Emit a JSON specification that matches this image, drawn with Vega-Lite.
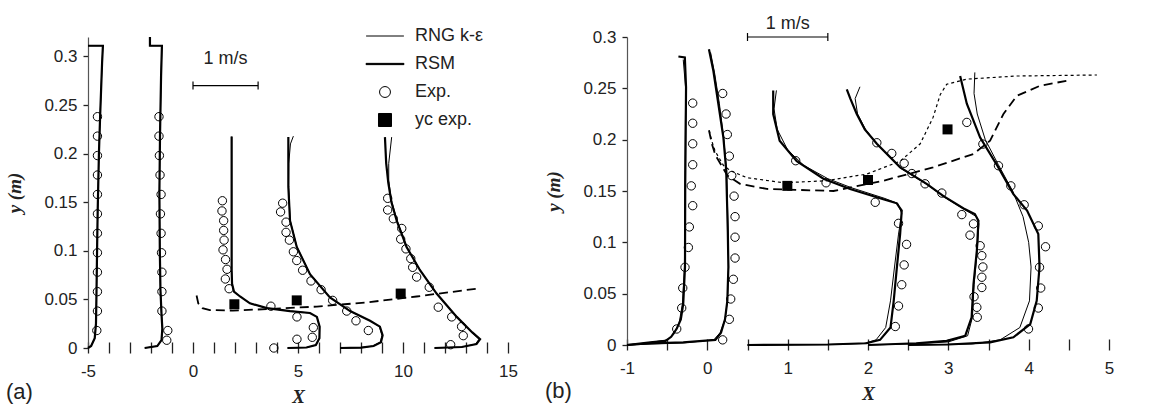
{
  "$schema": "https://vega.github.io/schema/vega-lite/v6.json",
  "background": "white",
  "padding": {"left": 5, "top": 14, "right": 5, "bottom": 5},
  "bounds": "flush",
  "spacing": 119,
  "config": {
    "view": {"stroke": null},
    "axis": {"labelFont": "Liberation Sans", "labelFontSize": 17, "labelColor": "#222", "titleFont": "Liberation Serif", "titleFontSize": 19, "titleFontStyle": "italic", "titleFontWeight": "bold", "titleColor": "#222", "grid": false, "domainColor": "#555", "tickColor": "#222", "domainWidth": 1.2, "tickWidth": 1.3, "labelOverlap": false, "labelFlush": false, "labelBound": false},
    "title": {"font": "Liberation Sans", "fontSize": 22, "fontWeight": "normal", "color": "#222"}
  },
  "datasets": {
    "a_lines": [
      {"p":"a1","m":"both","x":-5,"y":0.311},{"p":"a1","m":"both","x":-4.29,"y":0.311},{"p":"a1","m":"both","x":-4.33,"y":0.293},{"p":"a1","m":"both","x":-4.42,"y":0.24},{"p":"a1","m":"both","x":-4.48,"y":0.2},{"p":"a1","m":"both","x":-4.54,"y":0.14},{"p":"a1","m":"both","x":-4.57,"y":0.097},{"p":"a1","m":"both","x":-4.6,"y":0.05},{"p":"a1","m":"both","x":-4.62,"y":0.025},{"p":"a1","m":"both","x":-4.68,"y":0.01},{"p":"a1","m":"both","x":-4.85,"y":0.002},{"p":"a1","m":"both","x":-5,"y":0},
      {"p":"a2","m":"both","x":-2.05,"y":0.32},{"p":"a2","m":"both","x":-2.05,"y":0.311},{"p":"a2","m":"both","x":-1.48,"y":0.311},{"p":"a2","m":"both","x":-1.52,"y":0.28},{"p":"a2","m":"both","x":-1.57,"y":0.22},{"p":"a2","m":"both","x":-1.6,"y":0.16},{"p":"a2","m":"both","x":-1.58,"y":0.1},{"p":"a2","m":"both","x":-1.55,"y":0.06},{"p":"a2","m":"both","x":-1.5,"y":0.035},{"p":"a2","m":"both","x":-1.46,"y":0.02},{"p":"a2","m":"both","x":-1.5,"y":0.008},{"p":"a2","m":"both","x":-1.7,"y":0.002},{"p":"a2","m":"both","x":-2.3,"y":0},
      {"p":"a3","m":"both","x":1.84,"y":0.2175},{"p":"a3","m":"both","x":1.84,"y":0.15},{"p":"a3","m":"both","x":1.84,"y":0.08},{"p":"a3","m":"both","x":1.86,"y":0.066},{"p":"a3","m":"both","x":1.95,"y":0.058},{"p":"a3","m":"both","x":2.24,"y":0.053},{"p":"a3","m":"both","x":2.71,"y":0.046},{"p":"a3","m":"both","x":3.52,"y":0.041},{"p":"a3","m":"both","x":4.62,"y":0.038},{"p":"a3","m":"both","x":5.57,"y":0.036},{"p":"a3","m":"both","x":5.9,"y":0.032},{"p":"a3","m":"both","x":6.03,"y":0.022},{"p":"a3","m":"both","x":6.02,"y":0.01},{"p":"a3","m":"both","x":5.85,"y":0.003},{"p":"a3","m":"both","x":5.4,"y":0.0005},{"p":"a3","m":"both","x":4.5,"y":0},
      {"p":"a4","m":"RSM","x":4.54,"y":0.217},{"p":"a4","m":"RSM","x":4.54,"y":0.166},{"p":"a4","m":"RSM","x":4.62,"y":0.131},{"p":"a4","m":"RSM","x":4.94,"y":0.104},{"p":"a4","m":"RSM","x":5.57,"y":0.076},{"p":"a4","m":"RSM","x":6.52,"y":0.052},{"p":"a4","m":"RSM","x":7.48,"y":0.038},{"p":"a4","m":"RSM","x":8.43,"y":0.028},{"p":"a4","m":"RSM","x":8.9,"y":0.022},{"p":"a4","m":"RSM","x":9.03,"y":0.013},{"p":"a4","m":"RSM","x":8.95,"y":0.006},{"p":"a4","m":"RSM","x":8.6,"y":0.002},{"p":"a4","m":"RSM","x":8.0,"y":0.0003},{"p":"a4","m":"RSM","x":7,"y":0},
      {"p":"a4","m":"RNG","x":4.78,"y":0.218},{"p":"a4","m":"RNG","x":4.64,"y":0.21},{"p":"a4","m":"RNG","x":4.56,"y":0.19},{"p":"a4","m":"RNG","x":4.55,"y":0.166},{"p":"a4","m":"RNG","x":4.63,"y":0.131},{"p":"a4","m":"RNG","x":4.95,"y":0.104},{"p":"a4","m":"RNG","x":5.58,"y":0.076},{"p":"a4","m":"RNG","x":6.52,"y":0.052},{"p":"a4","m":"RNG","x":7.48,"y":0.038},{"p":"a4","m":"RNG","x":8.43,"y":0.028},{"p":"a4","m":"RNG","x":8.88,"y":0.022},{"p":"a4","m":"RNG","x":9.0,"y":0.013},{"p":"a4","m":"RNG","x":8.92,"y":0.006},{"p":"a4","m":"RNG","x":8.55,"y":0.002},{"p":"a4","m":"RNG","x":8.0,"y":0.0003},{"p":"a4","m":"RNG","x":7,"y":0},
      {"p":"a5","m":"RSM","x":9.14,"y":0.217},{"p":"a5","m":"RSM","x":9.2,"y":0.19},{"p":"a5","m":"RSM","x":9.3,"y":0.17},{"p":"a5","m":"RSM","x":9.45,"y":0.15},{"p":"a5","m":"RSM","x":9.7,"y":0.131},{"p":"a5","m":"RSM","x":10.17,"y":0.104},{"p":"a5","m":"RSM","x":10.81,"y":0.08},{"p":"a5","m":"RSM","x":11.6,"y":0.056},{"p":"a5","m":"RSM","x":12.56,"y":0.032},{"p":"a5","m":"RSM","x":13.3,"y":0.016},{"p":"a5","m":"RSM","x":13.67,"y":0.009},{"p":"a5","m":"RSM","x":13.5,"y":0.004},{"p":"a5","m":"RSM","x":12.8,"y":0.001},{"p":"a5","m":"RSM","x":11.5,"y":0},
      {"p":"a5","m":"RNG","x":9.46,"y":0.217},{"p":"a5","m":"RNG","x":9.32,"y":0.19},{"p":"a5","m":"RNG","x":9.32,"y":0.172},{"p":"a5","m":"RNG","x":9.45,"y":0.152},{"p":"a5","m":"RNG","x":9.72,"y":0.131},{"p":"a5","m":"RNG","x":10.18,"y":0.104},{"p":"a5","m":"RNG","x":10.82,"y":0.08},{"p":"a5","m":"RNG","x":11.6,"y":0.056},{"p":"a5","m":"RNG","x":12.55,"y":0.032},{"p":"a5","m":"RNG","x":13.28,"y":0.016},{"p":"a5","m":"RNG","x":13.62,"y":0.009},{"p":"a5","m":"RNG","x":13.45,"y":0.004},{"p":"a5","m":"RNG","x":12.8,"y":0.001},{"p":"a5","m":"RNG","x":11.5,"y":0}
    ],
    "a_exp": [
      {"x":-4.55,"y":0.238},{"x":-4.55,"y":0.218},{"x":-4.55,"y":0.198},{"x":-4.55,"y":0.178},{"x":-4.55,"y":0.158},{"x":-4.55,"y":0.138},{"x":-4.55,"y":0.118},{"x":-4.55,"y":0.098},{"x":-4.55,"y":0.078},{"x":-4.55,"y":0.058},{"x":-4.55,"y":0.038},{"x":-4.58,"y":0.018},
      {"x":-1.62,"y":0.238},{"x":-1.62,"y":0.218},{"x":-1.6,"y":0.198},{"x":-1.57,"y":0.178},{"x":-1.52,"y":0.158},{"x":-1.55,"y":0.138},{"x":-1.52,"y":0.118},{"x":-1.5,"y":0.098},{"x":-1.48,"y":0.078},{"x":-1.48,"y":0.058},{"x":-1.48,"y":0.038},{"x":-1.2,"y":0.018},{"x":-1.25,"y":0.008},
      {"x":1.4,"y":0.1515},{"x":1.38,"y":0.141},{"x":1.46,"y":0.131},{"x":1.46,"y":0.121},{"x":1.48,"y":0.111},{"x":1.43,"y":0.101},{"x":1.55,"y":0.091},{"x":1.62,"y":0.081},{"x":1.54,"y":0.071},{"x":1.72,"y":0.061},{"x":3.71,"y":0.043},{"x":4.95,"y":0.032},{"x":5.73,"y":0.021},{"x":5.68,"y":0.011},{"x":4.95,"y":0.009},{"x":3.85,"y":0.0},
      {"x":4.27,"y":0.149},{"x":4.17,"y":0.14},{"x":4.43,"y":0.1295},{"x":4.43,"y":0.119},{"x":4.59,"y":0.111},{"x":4.78,"y":0.099},{"x":4.94,"y":0.09},{"x":5.22,"y":0.08},{"x":5.62,"y":0.069},{"x":6.1,"y":0.06},{"x":6.65,"y":0.049},{"x":7.32,"y":0.038},{"x":7.76,"y":0.028},{"x":8.35,"y":0.018},
      {"x":9.27,"y":0.154},{"x":9.27,"y":0.142},{"x":9.54,"y":0.133},{"x":9.94,"y":0.123},{"x":9.89,"y":0.112},{"x":10.14,"y":0.102},{"x":10.37,"y":0.092},{"x":10.46,"y":0.083},{"x":10.65,"y":0.073},{"x":11.25,"y":0.0625},{"x":11.68,"y":0.042},{"x":12.32,"y":0.032},{"x":12.79,"y":0.022},{"x":12.87,"y":0.0127},{"x":12.27,"y":0.0034}
    ],
    "a_yc": [{"x":1.97,"y":0.045},{"x":4.94,"y":0.049},{"x":9.89,"y":0.056}],
    "a_dash": [{"x":0.17,"y":0.054},{"x":0.25,"y":0.046},{"x":0.45,"y":0.041},{"x":0.8,"y":0.039},{"x":1.9,"y":0.0385},{"x":3.5,"y":0.04},{"x":5.9,"y":0.0426},{"x":8.3,"y":0.047},{"x":10.65,"y":0.053},{"x":13.67,"y":0.0615}],
    "a_bar": [{"x":0,"x2":3.1,"y":0.27}],
    "a_barends": [{"x":0,"y":0.27},{"x":3.1,"y":0.27}],
    "a_label": [{"x":1.55,"y":0.297,"t":"1 m/s"}],
    "legend": [{"s":"RNG k-ε"},{"s":"RSM"},{"s":"Exp."},{"s":"yc exp."}],
    "b_lines": [
      {"p":"b1","m":"RSM","x":-0.36,"y":0.281},{"p":"b1","m":"RSM","x":-0.28,"y":0.28},{"p":"b1","m":"RSM","x":-0.265,"y":0.251},{"p":"b1","m":"RSM","x":-0.27,"y":0.2},{"p":"b1","m":"RSM","x":-0.275,"y":0.157},{"p":"b1","m":"RSM","x":-0.278,"y":0.076},{"p":"b1","m":"RSM","x":-0.3,"y":0.04},{"p":"b1","m":"RSM","x":-0.33,"y":0.025},{"p":"b1","m":"RSM","x":-0.38,"y":0.016},{"p":"b1","m":"RSM","x":-0.45,"y":0.008},{"p":"b1","m":"RSM","x":-0.52,"y":0.004},{"p":"b1","m":"RSM","x":-0.71,"y":0.0026},{"p":"b1","m":"RSM","x":-1,"y":0},
      {"p":"b1","m":"RNG","x":-0.3,"y":0.278},{"p":"b1","m":"RNG","x":-0.27,"y":0.25},{"p":"b1","m":"RNG","x":-0.278,"y":0.17},{"p":"b1","m":"RNG","x":-0.285,"y":0.076},{"p":"b1","m":"RNG","x":-0.31,"y":0.04},{"p":"b1","m":"RNG","x":-0.35,"y":0.022},{"p":"b1","m":"RNG","x":-0.42,"y":0.01},{"p":"b1","m":"RNG","x":-0.5,"y":0.005},{"p":"b1","m":"RNG","x":-0.75,"y":0.002},{"p":"b1","m":"RNG","x":-1,"y":0},
      {"p":"b2","m":"RSM","x":0.02,"y":0.288},{"p":"b2","m":"RSM","x":0.075,"y":0.267},{"p":"b2","m":"RSM","x":0.137,"y":0.235},{"p":"b2","m":"RSM","x":0.2,"y":0.202},{"p":"b2","m":"RSM","x":0.235,"y":0.17},{"p":"b2","m":"RSM","x":0.245,"y":0.14},{"p":"b2","m":"RSM","x":0.255,"y":0.11},{"p":"b2","m":"RSM","x":0.262,"y":0.076},{"p":"b2","m":"RSM","x":0.249,"y":0.043},{"p":"b2","m":"RSM","x":0.22,"y":0.025},{"p":"b2","m":"RSM","x":0.17,"y":0.012},{"p":"b2","m":"RSM","x":0.1,"y":0.005},{"p":"b2","m":"RSM","x":-0.3,"y":0.0026},{"p":"b2","m":"RSM","x":-0.7,"y":0.0017},{"p":"b2","m":"RSM","x":-1,"y":0},
      {"p":"b2","m":"RNG","x":0.04,"y":0.285},{"p":"b2","m":"RNG","x":0.09,"y":0.265},{"p":"b2","m":"RNG","x":0.15,"y":0.235},{"p":"b2","m":"RNG","x":0.205,"y":0.2},{"p":"b2","m":"RNG","x":0.24,"y":0.17},{"p":"b2","m":"RNG","x":0.25,"y":0.14},{"p":"b2","m":"RNG","x":0.258,"y":0.11},{"p":"b2","m":"RNG","x":0.265,"y":0.076},{"p":"b2","m":"RNG","x":0.25,"y":0.043},{"p":"b2","m":"RNG","x":0.22,"y":0.025},{"p":"b2","m":"RNG","x":0.16,"y":0.012},{"p":"b2","m":"RNG","x":0.08,"y":0.005},{"p":"b2","m":"RNG","x":-0.3,"y":0.002},{"p":"b2","m":"RNG","x":-1,"y":0},
      {"p":"b3","m":"RSM","x":0.82,"y":0.248},{"p":"b3","m":"RSM","x":0.82,"y":0.225},{"p":"b3","m":"RSM","x":0.9,"y":0.199},{"p":"b3","m":"RSM","x":1.113,"y":0.179},{"p":"b3","m":"RSM","x":1.445,"y":0.162},{"p":"b3","m":"RSM","x":1.777,"y":0.152},{"p":"b3","m":"RSM","x":2.19,"y":0.142},{"p":"b3","m":"RSM","x":2.358,"y":0.138},{"p":"b3","m":"RSM","x":2.42,"y":0.131},{"p":"b3","m":"RSM","x":2.4,"y":0.108},{"p":"b3","m":"RSM","x":2.36,"y":0.076},{"p":"b3","m":"RSM","x":2.32,"y":0.043},{"p":"b3","m":"RSM","x":2.28,"y":0.017},{"p":"b3","m":"RSM","x":2.15,"y":0.005},{"p":"b3","m":"RSM","x":1.98,"y":0.0017},{"p":"b3","m":"RSM","x":1.5,"y":0.0005},{"p":"b3","m":"RSM","x":0.5,"y":0},
      {"p":"b3","m":"RNG","x":0.86,"y":0.248},{"p":"b3","m":"RNG","x":0.83,"y":0.23},{"p":"b3","m":"RNG","x":0.87,"y":0.21},{"p":"b3","m":"RNG","x":1.0,"y":0.19},{"p":"b3","m":"RNG","x":1.2,"y":0.175},{"p":"b3","m":"RNG","x":1.5,"y":0.162},{"p":"b3","m":"RNG","x":1.8,"y":0.153},{"p":"b3","m":"RNG","x":2.2,"y":0.143},{"p":"b3","m":"RNG","x":2.37,"y":0.138},{"p":"b3","m":"RNG","x":2.42,"y":0.128},{"p":"b3","m":"RNG","x":2.38,"y":0.108},{"p":"b3","m":"RNG","x":2.33,"y":0.076},{"p":"b3","m":"RNG","x":2.28,"y":0.043},{"p":"b3","m":"RNG","x":2.22,"y":0.017},{"p":"b3","m":"RNG","x":2.1,"y":0.005},{"p":"b3","m":"RNG","x":1.95,"y":0.0015},{"p":"b3","m":"RNG","x":1.5,"y":0.0004},{"p":"b3","m":"RNG","x":0.5,"y":0},
      {"p":"b4","m":"RSM","x":1.736,"y":0.249},{"p":"b4","m":"RSM","x":1.78,"y":0.24},{"p":"b4","m":"RSM","x":1.86,"y":0.225},{"p":"b4","m":"RSM","x":1.96,"y":0.21},{"p":"b4","m":"RSM","x":2.11,"y":0.196},{"p":"b4","m":"RSM","x":2.4,"y":0.173},{"p":"b4","m":"RSM","x":2.73,"y":0.157},{"p":"b4","m":"RSM","x":2.94,"y":0.145},{"p":"b4","m":"RSM","x":3.19,"y":0.133},{"p":"b4","m":"RSM","x":3.33,"y":0.1275},{"p":"b4","m":"RSM","x":3.375,"y":0.121},{"p":"b4","m":"RSM","x":3.355,"y":0.092},{"p":"b4","m":"RSM","x":3.313,"y":0.059},{"p":"b4","m":"RSM","x":3.29,"y":0.027},{"p":"b4","m":"RSM","x":3.21,"y":0.009},{"p":"b4","m":"RSM","x":2.98,"y":0.004},{"p":"b4","m":"RSM","x":2.6,"y":0.0017},{"p":"b4","m":"RSM","x":2,"y":0},
      {"p":"b4","m":"RNG","x":1.9,"y":0.2515},{"p":"b4","m":"RNG","x":1.84,"y":0.24},{"p":"b4","m":"RNG","x":1.87,"y":0.225},{"p":"b4","m":"RNG","x":1.97,"y":0.21},{"p":"b4","m":"RNG","x":2.12,"y":0.195},{"p":"b4","m":"RNG","x":2.41,"y":0.172},{"p":"b4","m":"RNG","x":2.74,"y":0.156},{"p":"b4","m":"RNG","x":2.95,"y":0.144},{"p":"b4","m":"RNG","x":3.2,"y":0.132},{"p":"b4","m":"RNG","x":3.35,"y":0.125},{"p":"b4","m":"RNG","x":3.38,"y":0.118},{"p":"b4","m":"RNG","x":3.36,"y":0.092},{"p":"b4","m":"RNG","x":3.32,"y":0.059},{"p":"b4","m":"RNG","x":3.3,"y":0.027},{"p":"b4","m":"RNG","x":3.24,"y":0.009},{"p":"b4","m":"RNG","x":3.0,"y":0.003},{"p":"b4","m":"RNG","x":2.6,"y":0.0012},{"p":"b4","m":"RNG","x":2,"y":0},
      {"p":"b5","m":"RSM","x":3.147,"y":0.262},{"p":"b5","m":"RSM","x":3.23,"y":0.235},{"p":"b5","m":"RSM","x":3.396,"y":0.202},{"p":"b5","m":"RSM","x":3.6,"y":0.176},{"p":"b5","m":"RSM","x":3.81,"y":0.147},{"p":"b5","m":"RSM","x":3.98,"y":0.131},{"p":"b5","m":"RSM","x":4.12,"y":0.108},{"p":"b5","m":"RSM","x":4.135,"y":0.076},{"p":"b5","m":"RSM","x":4.1,"y":0.043},{"p":"b5","m":"RSM","x":4.02,"y":0.0204},{"p":"b5","m":"RSM","x":3.81,"y":0.0075},{"p":"b5","m":"RSM","x":3.52,"y":0.0026},{"p":"b5","m":"RSM","x":3.0,"y":0.0005},{"p":"b5","m":"RSM","x":2.5,"y":0},
      {"p":"b5","m":"RNG","x":3.33,"y":0.2655},{"p":"b5","m":"RNG","x":3.32,"y":0.245},{"p":"b5","m":"RNG","x":3.36,"y":0.225},{"p":"b5","m":"RNG","x":3.46,"y":0.2},{"p":"b5","m":"RNG","x":3.62,"y":0.176},{"p":"b5","m":"RNG","x":3.8,"y":0.15},{"p":"b5","m":"RNG","x":3.93,"y":0.125},{"p":"b5","m":"RNG","x":4.0,"y":0.1},{"p":"b5","m":"RNG","x":4.03,"y":0.076},{"p":"b5","m":"RNG","x":4.01,"y":0.043},{"p":"b5","m":"RNG","x":3.89,"y":0.017},{"p":"b5","m":"RNG","x":3.645,"y":0.005},{"p":"b5","m":"RNG","x":3.3,"y":0.001},{"p":"b5","m":"RNG","x":2.5,"y":0}
    ],
    "b_exp": [
      {"x":-0.182,"y":0.2356},{"x":-0.182,"y":0.216},{"x":-0.182,"y":0.196},{"x":-0.182,"y":0.1756},{"x":-0.2,"y":0.155},{"x":-0.182,"y":0.1357},{"x":-0.224,"y":0.115},{"x":-0.236,"y":0.095},{"x":-0.278,"y":0.0757},{"x":-0.306,"y":0.0555},{"x":-0.319,"y":0.036},{"x":-0.381,"y":0.0156},
      {"x":0.191,"y":0.245},{"x":0.233,"y":0.225},{"x":0.249,"y":0.205},{"x":0.274,"y":0.184},{"x":0.304,"y":0.165},{"x":0.333,"y":0.145},{"x":0.345,"y":0.125},{"x":0.345,"y":0.105},{"x":0.345,"y":0.0847},{"x":0.324,"y":0.064},{"x":0.291,"y":0.0448},{"x":0.274,"y":0.025},{"x":0.191,"y":0.005},
      {"x":1.1,"y":0.1795},{"x":1.478,"y":0.158},{"x":2.09,"y":0.139},{"x":2.38,"y":0.1185},{"x":2.48,"y":0.098},{"x":2.45,"y":0.078},{"x":2.42,"y":0.0587},{"x":2.38,"y":0.038},{"x":2.34,"y":0.018},
      {"x":2.11,"y":0.197},{"x":2.296,"y":0.1866},{"x":2.45,"y":0.177},{"x":2.546,"y":0.167},{"x":2.71,"y":0.157},{"x":2.919,"y":0.148},{"x":3.168,"y":0.127},{"x":3.313,"y":0.118},{"x":3.27,"y":0.107},{"x":3.396,"y":0.0967},{"x":3.417,"y":0.087},{"x":3.43,"y":0.076},{"x":3.417,"y":0.066},{"x":3.417,"y":0.056},{"x":3.32,"y":0.047},{"x":3.355,"y":0.0367},{"x":3.36,"y":0.027},
      {"x":3.23,"y":0.2168},{"x":3.43,"y":0.1957},{"x":3.624,"y":0.1746},{"x":3.778,"y":0.155},{"x":3.944,"y":0.1366},{"x":4.12,"y":0.116},{"x":4.21,"y":0.0957},{"x":4.135,"y":0.0757},{"x":4.15,"y":0.0555},{"x":4.12,"y":0.036},{"x":3.998,"y":0.0156}
    ],
    "b_yc": [{"x":0.996,"y":0.155},{"x":2.0,"y":0.1607},{"x":2.99,"y":0.21}],
    "b_dash": [
      {"m":"RNG","x":0.025,"y":0.209},{"m":"RNG","x":0.05,"y":0.2},{"m":"RNG","x":0.096,"y":0.189},{"m":"RNG","x":0.2,"y":0.175},{"m":"RNG","x":0.283,"y":0.17},{"m":"RNG","x":0.49,"y":0.163},{"m":"RNG","x":0.947,"y":0.158},{"m":"RNG","x":1.487,"y":0.16},{"m":"RNG","x":1.985,"y":0.1665},{"m":"RNG","x":2.4,"y":0.179},{"m":"RNG","x":2.65,"y":0.196},{"m":"RNG","x":2.81,"y":0.2217},{"m":"RNG","x":2.9,"y":0.244},{"m":"RNG","x":2.98,"y":0.254},{"m":"RNG","x":3.23,"y":0.259},{"m":"RNG","x":3.853,"y":0.262},{"m":"RNG","x":4.85,"y":0.263},
      {"m":"RSM","x":0.02,"y":0.209},{"m":"RSM","x":0.06,"y":0.195},{"m":"RSM","x":0.1,"y":0.185},{"m":"RSM","x":0.25,"y":0.165},{"m":"RSM","x":0.407,"y":0.157},{"m":"RSM","x":0.74,"y":0.152},{"m":"RSM","x":1.154,"y":0.151},{"m":"RSM","x":1.57,"y":0.15},{"m":"RSM","x":2.19,"y":0.16},{"m":"RSM","x":2.81,"y":0.173},{"m":"RSM","x":3.31,"y":0.186},{"m":"RSM","x":3.52,"y":0.199},{"m":"RSM","x":3.686,"y":0.225},{"m":"RSM","x":3.853,"y":0.2427},{"m":"RSM","x":4.14,"y":0.2525},{"m":"RSM","x":4.517,"y":0.258}
    ],
    "b_bar": [{"x":0.5,"x2":1.5,"y":0.3}],
    "b_barends": [{"x":0.5,"y":0.3},{"x":1.5,"y":0.3}],
    "b_label": [{"x":1.0,"y":0.313,"t":"1 m/s"}]
  },
  "hconcat": [
    {
      "width": 420,
      "height": 311,
      "title": {"text": "(a)", "orient": "bottom", "anchor": "start", "frame": "bounds", "offset": -24},
      "layer": [
        {"mark": {"type": "rule", "color": "#555", "strokeWidth": 1.2}, "encoding": {"y": {"datum": 0, "type": "quantitative"}}},
        {
          "data": {"name": "a_lines"},
          "transform": [{"filter": "datum.m !== 'RSM'"}],
          "mark": {"type": "line", "color": "black", "strokeWidth": 1},
          "encoding": {
            "x": {"field": "x", "type": "quantitative", "scale": {"domain": [-5, 15], "nice": false, "zero": false},
                  "axis": {"values": [-5,-4,-3,-2,-1,0,1,2,3,4,5,6,7,8,9,10,11,12,13,14,15], "tickCount": 100, "labelExpr": "datum.value % 5 === 0 ? '' + datum.value : ''", "labelOverlap": false, "labelFlush": false, "offset": -6, "tickSize": 11, "domain": false, "labelPadding": 10, "title": "X", "titlePadding": 8}},
            "y": {"field": "y", "type": "quantitative", "scale": {"domain": [0, 0.32], "nice": false},
                  "axis": {"values": [0,0.05,0.1,0.15,0.2,0.25,0.3], "tickCount": 100, "labelExpr": "'' + datum.value", "labelOverlap": false, "labelFlush": false, "tickSize": 5, "labelPadding": 6, "title": "y (m)", "titlePadding": 19}},
            "detail": {"field": "p", "type": "nominal"},
            "order": {"value": null}
          }
        },
        {
          "data": {"name": "a_lines"},
          "transform": [{"filter": "datum.m !== 'RNG'"}],
          "mark": {"type": "line", "color": "black", "strokeWidth": 2.2},
          "encoding": {"x": {"field": "x", "type": "quantitative"}, "y": {"field": "y", "type": "quantitative"}, "detail": {"field": "p", "type": "nominal"}, "order": {"value": null}}
        },
        {
          "data": {"name": "a_dash"},
          "mark": {"type": "line", "color": "black", "strokeWidth": 1.8, "strokeDash": [9, 5]},
          "encoding": {"x": {"field": "x", "type": "quantitative"}, "y": {"field": "y", "type": "quantitative"}, "order": {"value": null}}
        },
        {
          "data": {"name": "a_exp"},
          "mark": {"type": "point", "shape": "circle", "filled": false, "stroke": "black", "strokeWidth": 1, "size": 70, "opacity": 1},
          "encoding": {"x": {"field": "x", "type": "quantitative"}, "y": {"field": "y", "type": "quantitative"}}
        },
        {
          "data": {"name": "a_yc"},
          "mark": {"type": "square", "color": "black", "size": 100, "opacity": 1},
          "encoding": {"x": {"field": "x", "type": "quantitative"}, "y": {"field": "y", "type": "quantitative"}}
        },
        {
          "data": {"name": "a_bar"},
          "mark": {"type": "rule", "color": "black", "strokeWidth": 1.2},
          "encoding": {"x": {"field": "x", "type": "quantitative"}, "x2": {"field": "x2"}, "y": {"field": "y", "type": "quantitative"}}
        },
        {
          "data": {"name": "a_barends"},
          "mark": {"type": "point", "shape": "M0,-1V1", "stroke": "black", "strokeWidth": 1.2, "size": 64, "opacity": 1, "filled": false},
          "encoding": {"x": {"field": "x", "type": "quantitative"}, "y": {"field": "y", "type": "quantitative"}}
        },
        {
          "data": {"name": "a_label"},
          "mark": {"type": "text", "font": "Liberation Sans", "fontSize": 18, "color": "#222"},
          "encoding": {"x": {"field": "x", "type": "quantitative"}, "y": {"field": "y", "type": "quantitative"}, "text": {"field": "t"}}
        },
        {
          "data": {"name": "legend"},
          "mark": {"type": "point", "filled": true, "stroke": "black", "strokeWidth": 1, "opacity": 1},
          "encoding": {
            "x": {"field": "lx", "type": "quantitative"},
            "y": {"field": "ly", "type": "quantitative"},
            "shape": {"field": "s", "type": "nominal",
              "scale": {"domain": ["RNG k-ε", "RSM", "Exp.", "yc exp."], "range": ["M-2.7,0H2.7", "M-2.7,-0.09H2.7V0.09H-2.7Z", "M-0.78,0A0.78,0.78,0,1,0,0.78,0A0.78,0.78,0,1,0,-0.78,0Z", "M-0.93,-0.93H0.93V0.93H-0.93Z"]},
              "legend": {"orient": "none", "legendX": 288, "legendY": -10, "title": null, "symbolSize": 196, "symbolStrokeWidth": 1, "labelFont": "Liberation Sans", "labelFontSize": 18, "labelColor": "#222", "labelOffset": 21, "rowPadding": 10, "padding": 0}},
            "fill": {"field": "s", "type": "nominal",
              "scale": {"domain": ["RNG k-ε", "RSM", "Exp.", "yc exp."], "range": ["transparent", "black", "white", "black"]},
              "legend": {"orient": "none", "legendX": 288, "legendY": -10, "title": null, "symbolSize": 196, "symbolStrokeWidth": 1, "labelFont": "Liberation Sans", "labelFontSize": 18, "labelColor": "#222", "labelOffset": 21, "rowPadding": 10, "padding": 0}}
          }
        }
      ]
    },
    {
      "width": 482,
      "height": 308,
      "title": {"text": "(b)", "orient": "bottom", "anchor": "start", "frame": "bounds", "offset": -22},
      "layer": [
        {"mark": {"type": "rule", "color": "#555", "strokeWidth": 1.2}, "encoding": {"y": {"datum": 0, "type": "quantitative"}}},
        {
          "data": {"name": "b_lines"},
          "transform": [{"filter": "datum.m !== 'RSM'"}],
          "mark": {"type": "line", "color": "black", "strokeWidth": 1},
          "encoding": {
            "x": {"field": "x", "type": "quantitative", "scale": {"domain": [-1, 5], "nice": false, "zero": false},
                  "axis": {"values": [-1,-0.5,0,0.5,1,1.5,2,2.5,3,3.5,4,4.5,5], "tickCount": 100, "labelExpr": "datum.value % 1 === 0 ? '' + datum.value : ''", "labelOverlap": false, "labelFlush": false, "offset": -6, "tickSize": 11, "domain": false, "labelPadding": 10, "title": "X", "titlePadding": 8}},
            "y": {"field": "y", "type": "quantitative", "scale": {"domain": [0, 0.3], "nice": false},
                  "axis": {"values": [0,0.05,0.1,0.15,0.2,0.25,0.3], "tickCount": 100, "labelExpr": "'' + datum.value", "labelOverlap": false, "labelFlush": false, "tickSize": 5, "labelPadding": 6, "title": "y (m)", "titlePadding": 19}},
            "detail": {"field": "p", "type": "nominal"},
            "order": {"value": null}
          }
        },
        {
          "data": {"name": "b_lines"},
          "transform": [{"filter": "datum.m !== 'RNG'"}],
          "mark": {"type": "line", "color": "black", "strokeWidth": 2.2},
          "encoding": {"x": {"field": "x", "type": "quantitative"}, "y": {"field": "y", "type": "quantitative"}, "detail": {"field": "p", "type": "nominal"}, "order": {"value": null}}
        },
        {
          "data": {"name": "b_dash"},
          "transform": [{"filter": "datum.m === 'RNG'"}],
          "mark": {"type": "line", "color": "black", "strokeWidth": 1.2, "strokeDash": [3, 3]},
          "encoding": {"x": {"field": "x", "type": "quantitative"}, "y": {"field": "y", "type": "quantitative"}, "order": {"value": null}}
        },
        {
          "data": {"name": "b_dash"},
          "transform": [{"filter": "datum.m === 'RSM'"}],
          "mark": {"type": "line", "color": "black", "strokeWidth": 1.8, "strokeDash": [9, 5]},
          "encoding": {"x": {"field": "x", "type": "quantitative"}, "y": {"field": "y", "type": "quantitative"}, "order": {"value": null}}
        },
        {
          "data": {"name": "b_exp"},
          "mark": {"type": "point", "shape": "circle", "filled": false, "stroke": "black", "strokeWidth": 1, "size": 70, "opacity": 1},
          "encoding": {"x": {"field": "x", "type": "quantitative"}, "y": {"field": "y", "type": "quantitative"}}
        },
        {
          "data": {"name": "b_yc"},
          "mark": {"type": "square", "color": "black", "size": 100, "opacity": 1},
          "encoding": {"x": {"field": "x", "type": "quantitative"}, "y": {"field": "y", "type": "quantitative"}}
        },
        {
          "data": {"name": "b_bar"},
          "mark": {"type": "rule", "color": "black", "strokeWidth": 1.2},
          "encoding": {"x": {"field": "x", "type": "quantitative"}, "x2": {"field": "x2"}, "y": {"field": "y", "type": "quantitative"}}
        },
        {
          "data": {"name": "b_barends"},
          "mark": {"type": "point", "shape": "M0,-1V1", "stroke": "black", "strokeWidth": 1.2, "size": 64, "opacity": 1, "filled": false},
          "encoding": {"x": {"field": "x", "type": "quantitative"}, "y": {"field": "y", "type": "quantitative"}}
        },
        {
          "data": {"name": "b_label"},
          "mark": {"type": "text", "font": "Liberation Sans", "fontSize": 18, "color": "#222"},
          "encoding": {"x": {"field": "x", "type": "quantitative"}, "y": {"field": "y", "type": "quantitative"}, "text": {"field": "t"}}
        }
      ]
    }
  ]
}
